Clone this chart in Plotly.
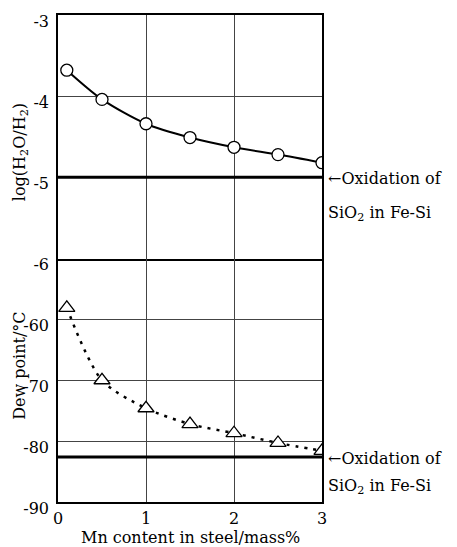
import plotly.graph_objects as go
from plotly.subplots import make_subplots

# Data
mn_content = [0.1, 0.5, 1.0, 1.5, 2.0, 2.5, 3.0]
log_h2o_h2 = [-3.68, -4.04, -4.34, -4.51, -4.63, -4.72, -4.82]
dew_point = [-58.1, -70.0, -74.6, -77.2, -78.7, -80.3, -81.6]
oxidation_log = -5.0
oxidation_dew = -82.6
x_ticks = [0, 1, 2, 3]
top_ticks = [-3, -4, -5, -6]
bottom_ticks = [-60, -70, -80, -90]

FONT = "DejaVu Serif, Liberation Serif, serif"

fig = make_subplots(rows=2, cols=1, shared_xaxes=True, vertical_spacing=0)

fig.add_trace(go.Scatter(
    x=mn_content, y=log_h2o_h2, mode="lines+markers",
    line=dict(color="black", width=2, shape="spline", smoothing=0.8),
    marker=dict(symbol="circle", size=12, color="white",
                line=dict(color="black", width=1.3)),
    showlegend=False), row=1, col=1)

fig.add_trace(go.Scatter(
    x=mn_content, y=dew_point, mode="lines+markers",
    line=dict(color="black", width=2.5, shape="spline", smoothing=0.8, dash="3px,6px"),
    marker=dict(symbol="triangle-up", size=14, color="white",
                line=dict(color="black", width=1.3)),
    showlegend=False), row=2, col=1)

fig.add_hline(y=oxidation_log, line=dict(color="black", width=3), row=1, col=1)
fig.add_hline(y=oxidation_dew, line=dict(color="black", width=3), row=2, col=1)

axis_common = dict(showline=True, mirror=True, linecolor="black", linewidth=1.5,
                   showgrid=True, gridcolor="#444444", gridwidth=1, zeroline=False,
                   ticks="", tickfont=dict(family=FONT, size=16, color="black"))

fig.update_xaxes(range=[0, 3], tickvals=x_ticks, ticktext=[str(v) for v in x_ticks],
                 **axis_common)
fig.update_xaxes(showticklabels=False, row=1, col=1)
fig.update_xaxes(ticklabelstandoff=1, mirror=False, row=2, col=1)
fig.update_yaxes(range=[-6, -3], tickvals=top_ticks,
                 ticktext=[str(v) for v in top_ticks], ticklabelshift=6,
                 ticklabelstandoff=4, row=1, col=1, **axis_common)
fig.update_yaxes(range=[-90, -50], tickvals=bottom_ticks,
                 ticktext=[str(v) for v in bottom_ticks], ticklabelshift=6,
                 ticklabelstandoff=4, row=2, col=1, **axis_common)

fig.update_layout(
    width=457, height=547,
    margin=dict(l=58, r=135, t=12, b=45),
    paper_bgcolor="white", plot_bgcolor="white",
    font=dict(family=FONT, size=16, color="black"),
)

ann_font = dict(family=FONT, size=16, color="black")
annotations = [
    dict(text="Mn content in steel/mass%", xref="paper", yref="paper",
         x=0.5, y=(502 - 538) / 490, xanchor="center", yanchor="middle",
         showarrow=False, font=ann_font),
    dict(text="log(H<sub>2</sub>O/H<sub>2</sub>)", xref="paper", yref="paper",
         x=(20 - 58) / 264, y=(502 - 150) / 490, textangle=-90,
         xanchor="center", yanchor="middle", showarrow=False, font=ann_font),
    dict(text="Dew point/°C", xref="paper", yref="paper",
         x=(20 - 58) / 264, y=(502 - 365) / 490, textangle=-90,
         xanchor="center", yanchor="middle", showarrow=False, font=ann_font),
    dict(text="←Oxidation of", xref="paper", yref="y", x=1, y=oxidation_log,
         xanchor="left", yanchor="middle", xshift=4, yshift=-1, showarrow=False, font=ann_font),
    dict(text="SiO<sub>2</sub> in Fe-Si", xref="paper", yref="y", x=1, y=oxidation_log,
         xanchor="left", yanchor="middle", xshift=4, yshift=-36, showarrow=False, font=ann_font),
    dict(text="←Oxidation of", xref="paper", yref="y2", x=1, y=oxidation_dew,
         xanchor="left", yanchor="middle", xshift=4, yshift=-2, showarrow=False, font=ann_font),
    dict(text="SiO<sub>2</sub> in Fe-Si", xref="paper", yref="y2", x=1, y=oxidation_dew,
         xanchor="left", yanchor="middle", xshift=4, yshift=-30, showarrow=False, font=ann_font),
]
fig.update_layout(annotations=annotations)

fig.write_html("out.html", config={"displayModeBar": False},
               post_script="document.body.style.margin='0';")
